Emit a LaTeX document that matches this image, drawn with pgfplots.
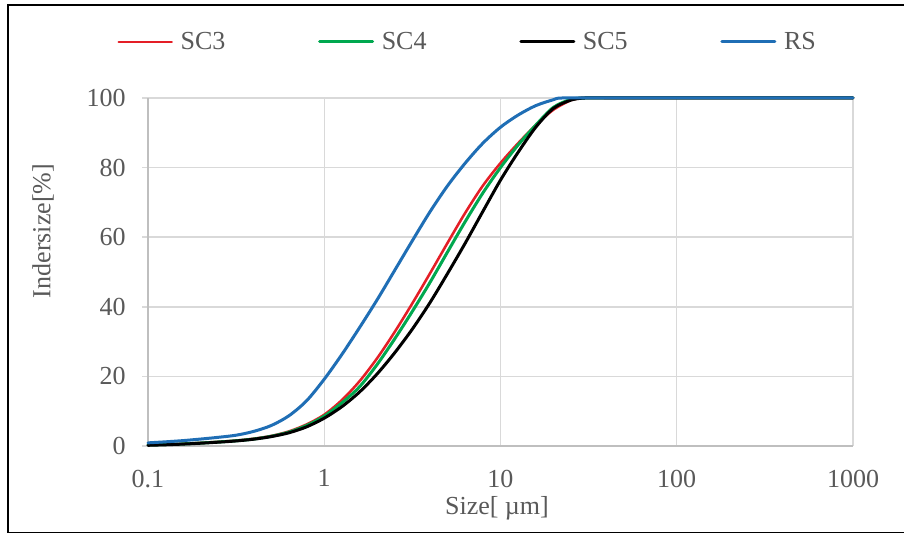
\documentclass[border=0pt]{standalone}
\usepackage{fontspec}
\setmainfont{Liberation Serif}
\usepackage{pgfplots}
\pgfplotsset{compat=1.18}
\definecolor{cRed}{HTML}{E41E26}
\definecolor{cGreen}{HTML}{00A84F}
\definecolor{cBlue}{HTML}{1F6EB5}
\definecolor{txt}{HTML}{595959}
\definecolor{grd}{HTML}{D9D9D9}
\definecolor{axl}{HTML}{BFBFBF}
\newcommand{\ff}{\fontsize{19.5}{23}\selectfont}
\begin{document}
\begin{tikzpicture}[x=0.75pt,y=0.75pt]
\fill[white] (0,0) rectangle (904,534);
\useasboundingbox (0,0) rectangle (904,534);
\draw[black, line width=1.4pt] (905,529) -- (8,529) -- (8,1.5) -- (905,1.5);
\begin{axis}[
  at={(111pt,66pt)}, anchor=south west, scale only axis,
  width=528.75pt, height=261pt,
  xmode=log, log basis x=10,
  xmin=0.1, xmax=1000, ymin=0, ymax=100,
  xtick={0.1,1,10,100,1000}, xticklabels={0.1,1,10,100,1000},
  ytick={0,20,40,60,80,100},
  minor tick length=0pt,
  grid=major, major grid style={draw=grd, line width=1.1pt},
  axis x line*=bottom, axis y line*=left,
  axis line style={-, draw=axl, line width=1.1pt},
  tick align=outside, major tick length=4.5pt,
  xtick style={draw=none},
  ytick style={draw=grd, line width=1.1pt},
  /pgf/number format/assume math mode=true,
  ticklabel style={font=\ff, text=txt, inner sep=0pt},
  xticklabel style={anchor=north, yshift=-13.1pt},
  yticklabel style={anchor=east, xshift=-12pt},
  xlabel={Size[ µm]}, ylabel={Indersize[\%]},
  every axis x label/.style={at={(axis description cs:0.495,-0.178)}, anchor=center, font=\ff, text=txt},
  every axis y label/.style={at={(axis description cs:-0.1489,0.618)}, rotate=90, anchor=center, font=\ff, text=txt},
  legend columns=4,
  legend style={at={(axis description cs:0.4539,1.161)}, anchor=center, draw=none, fill=none,
    font=\ff, text=txt, inner sep=0pt,
    /tikz/every odd column/.append style={column sep=3.75pt},
    /tikz/every even column/.append style={column sep=67.5pt}},
  legend image code/.code={\draw[#1] (0pt,0pt) -- (39.75pt,0pt);},
  clip=false,
  every axis plot/.append style={smooth, tension=0.5, line join=round, line cap=round},
]
\addplot[cRed, line width=1.9pt] coordinates {
 (0.1,0.3) (0.1259,0.45) (0.1585,0.65) (0.1995,0.9) (0.2512,1.2) (0.3162,1.55) (0.3981,2.1)
 (0.5012,2.9) (0.631,4.2) (0.7943,6.2) (1,9.0) (1.259,13.2) (1.585,18.6) (1.995,25.2)
 (2.512,32.8) (3.162,41.0) (3.981,49.6) (5.012,58.4) (6.31,67.0) (7.943,74.8) (10,81.3)
 (12.59,87.0) (15.85,92.2) (19.95,96.6) (25.12,99.4) (28.18,100) (40,100) (100,100) (1000,100)};
\addlegendentry{SC3}
\addplot[cGreen, line width=2.25pt] coordinates {
 (0.1,0.3) (0.1259,0.42) (0.1585,0.6) (0.1995,0.85) (0.2512,1.15) (0.3162,1.5) (0.3981,2.0)
 (0.5012,2.8) (0.631,4.0) (0.7943,5.9) (1,8.6) (1.259,12.4) (1.585,17.0) (1.995,23.4)
 (2.512,30.8) (3.162,38.7) (3.981,47.0) (5.012,55.8) (6.31,64.5) (7.943,72.7) (10,80.0)
 (12.59,86.5) (15.85,92.2) (19.95,97.3) (25.12,99.6) (30.2,100) (40,100) (100,100) (1000,100)};
\addlegendentry{SC4}
\addplot[black, line width=2.25pt] coordinates {
 (0.1,0.2) (0.1259,0.35) (0.1585,0.55) (0.1995,0.8) (0.2512,1.1) (0.3162,1.45) (0.3981,1.95)
 (0.5012,2.7) (0.631,3.8) (0.7943,5.5) (1,8.0) (1.259,11.3) (1.585,15.5) (1.995,20.7)
 (2.512,26.8) (3.162,33.6) (3.981,41.2) (5.012,49.6) (6.31,58.3) (7.943,67.4) (10,76.4)
 (12.59,84.4) (15.85,91.6) (19.95,97.0) (25.12,99.4) (30.2,100) (40,100) (100,100) (1000,100)};
\addlegendentry{SC5}
\addplot[cBlue, line width=2.25pt] coordinates {
 (0.1,0.9) (0.1259,1.2) (0.1585,1.55) (0.1995,2.0) (0.2512,2.5) (0.3162,3.1) (0.3981,4.2)
 (0.5012,5.9) (0.631,8.7) (0.7943,13.0) (1,19.2) (1.259,26.3) (1.585,34.0) (1.995,42.0)
 (2.512,50.5) (3.162,59.0) (3.981,67.3) (5.012,74.8) (6.31,81.3) (7.943,87.0) (10,91.6)
 (12.59,95.1) (15.85,97.8) (19.95,99.5) (22.39,100) (40,100) (100,100) (1000,100)};
\addlegendentry{RS}
\end{axis}
\end{tikzpicture}
\end{document}
